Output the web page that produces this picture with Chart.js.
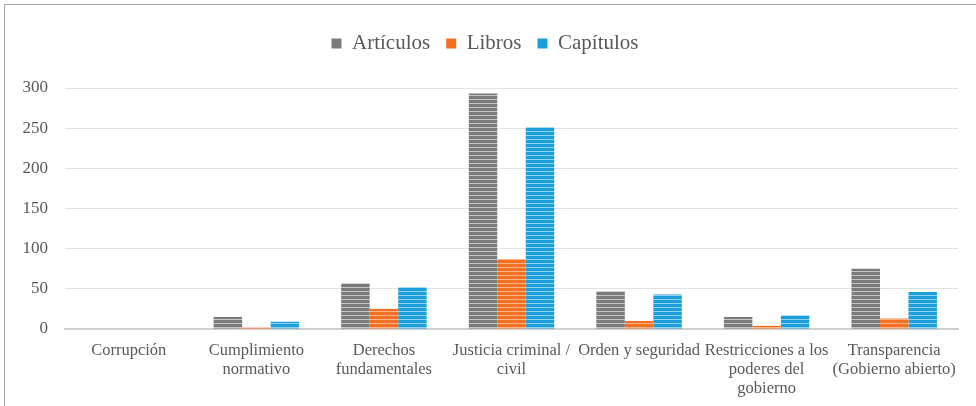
<!DOCTYPE html>
<html>
<head>
<meta charset="utf-8">
<script src="https://cdn.jsdelivr.net/npm/chart.js@4/dist/chart.umd.min.js"></script>
<style>
  html, body { margin: 0; padding: 0; background: #fff; overflow: hidden; }
  #wrap { position: relative; width: 976px; height: 406px; }
  #frame { position: absolute; left: 4px; top: 4px; width: 990px; height: 420px; border: 1px solid #a6a6a6; box-sizing: border-box; pointer-events: none; }
  canvas { position: absolute; left: 0; top: 0; }
</style>
</head>
<body>
<div id="wrap">
  <canvas id="pubChart" width="976" height="406"></canvas>
  <div id="frame"></div>
</div>
<script>
// Data
const categories = [
  'Corrupción',
  ['Cumplimiento', 'normativo'],
  ['Derechos', 'fundamentales'],
  ['Justicia criminal /', 'civil'],
  'Orden y seguridad',
  ['Restricciones a los', 'poderes del', 'gobierno'],
  ['Transparencia', '(Gobierno abierto)']
];
const articulos = [0, 15, 57, 293, 47, 15, 75];
const libros = [0, 2, 25, 87, 10, 4, 13];
const capitulos = [0, 9, 52, 251, 43, 17, 46];
const yTicks = [0, 50, 100, 150, 200, 250, 300];

const SERIF = '"Liberation Serif", "Times New Roman", Tinos, "Nimbus Roman", "Noto Serif", "DejaVu Serif", serif';
const TEXT = '#595959';

// horizontal striped fill, like the Excel pattern fill
function stripes(base, light) {
  const c = document.createElement('canvas');
  c.width = 4; c.height = 4;
  const g = c.getContext('2d');
  g.fillStyle = base;
  g.fillRect(0, 0, 4, 4);
  g.fillStyle = light;
  g.fillRect(0, 3, 4, 1);
  return g.createPattern(c, 'repeat');
}

// extra gap under the legend
const legendGap = {
  id: 'legendGap',
  beforeInit(chart) {
    const fit = chart.legend.fit;
    chart.legend.fit = function () {
      fit.call(this);
      this.height += 24;
    };
  }
};

function draw() {
  const ctx = document.getElementById('pubChart').getContext('2d');
  new Chart(ctx, {
    type: 'bar',
    data: {
      labels: categories,
      datasets: [
        { label: 'Artículos', data: articulos, backgroundColor: stripes('#7b7b7b', '#c4c4c4') },
        { label: 'Libros', data: libros, backgroundColor: stripes('#f56f22', '#fbb48a') },
        { label: 'Capítulos', data: capitulos, backgroundColor: stripes('#1ca0dc', '#8fd2f0') }
      ]
    },
    plugins: [legendGap],
    options: {
      responsive: false,
      animation: false,
      layout: { padding: { top: 17, left: 12, right: 18, bottom: -4 } },
      datasets: { bar: { categoryPercentage: 0.67, barPercentage: 1.0 } },
      plugins: {
        tooltip: { enabled: false },
        legend: {
          position: 'top',
          labels: {
            font: { family: SERIF, size: 21 },
            color: TEXT,
            boxWidth: 10,
            boxHeight: 10,
            padding: 16,
            generateLabels(chart) {
              const colors = ['#7b7b7b', '#f56f22', '#1ca0dc'];
              return chart.data.datasets.map((ds, i) => ({
                text: ds.label, fillStyle: colors[i], strokeStyle: colors[i],
                lineWidth: 0, datasetIndex: i, fontColor: TEXT
              }));
            }
          }
        }
      },
      scales: {
        x: {
          grid: { display: false, drawTicks: false },
          border: { display: true, color: '#d0d0d0', width: 2 },
          ticks: {
            font: { family: SERIF, size: 16.5, lineHeight: '19px' },
            color: TEXT,
            padding: 12,
            maxRotation: 0,
            autoSkip: false
          }
        },
        y: {
          min: 0,
          max: 300,
          afterBuildTicks(axis) { axis.ticks = yTicks.map(v => ({ value: v })); },
          afterFit(axis) { axis.width = 53; },
          grid: { color: '#e2e2e2', lineWidth: 1, drawTicks: false },
          border: { display: false },
          ticks: {
            font: { family: SERIF, size: 17 },
            color: TEXT,
            padding: 17
          }
        }
      }
    }
  });
}

draw();
</script>
</body>
</html>
